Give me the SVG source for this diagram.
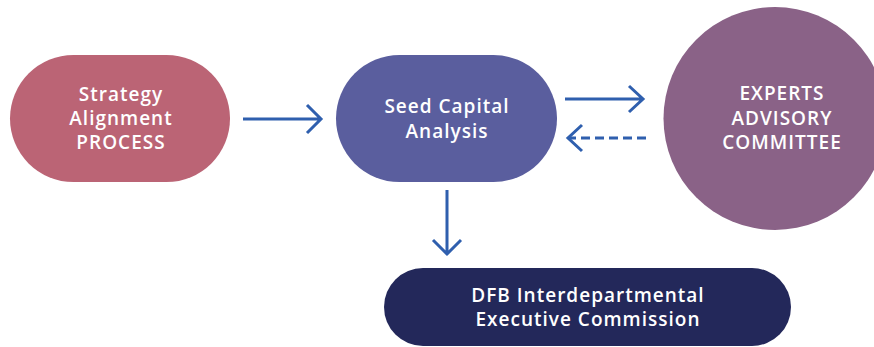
<svg xmlns="http://www.w3.org/2000/svg" width="874" height="347" viewBox="0 0 874 347">
<style>
.t{font-family:"Open Sans","Liberation Sans",sans-serif;font-weight:600;font-size:19px;letter-spacing:1px;fill:#ffffff;text-anchor:middle}
.c{fill:none;stroke:#2f5fae;stroke-width:3;stroke-linecap:butt;stroke-linejoin:miter}
</style>
<rect width="874" height="347" fill="#ffffff"/>
<g id="strategy">
<rect x="10" y="55" width="220" height="127" rx="63.5" fill="#bb6475"/>
<text class="t" x="121" y="101">Strategy</text>
<text class="t" x="121" y="125">Alignment</text>
<text class="t" x="121" y="149">PROCESS</text>
</g>
<g id="seed">
<rect x="336" y="55" width="221" height="127" rx="63.5" fill="#5a5e9e"/>
<text class="t" x="447" y="113">Seed Capital</text>
<text class="t" x="447" y="138">Analysis</text>
</g>
<g id="experts">
<circle cx="775" cy="118.5" r="111.5" fill="#8a6287"/>
<text class="t" x="782" y="100">EXPERTS</text>
<text class="t" x="782" y="125">ADVISORY</text>
<text class="t" x="782" y="149">COMMITTEE</text>
</g>
<g id="dfb">
<rect x="384" y="268" width="407" height="78" rx="39" fill="#23285a"/>
<text class="t" x="588" y="302">DFB Interdepartmental</text>
<text class="t" x="588" y="326">Executive Commission</text>
</g>
<g id="connectors">
<path class="c" d="M243 119H321M307 105L321 119L307 133"/>
<path class="c" d="M565 99H643M629 86L643 99L629 112"/>
<path class="c" d="M646 138H569" stroke-dasharray="9 5"/>
<path class="c" d="M582 125L568 138L582 151"/>
<path class="c" d="M447 190V254M433 240L447 254L461 240"/>
</g>
</svg>
